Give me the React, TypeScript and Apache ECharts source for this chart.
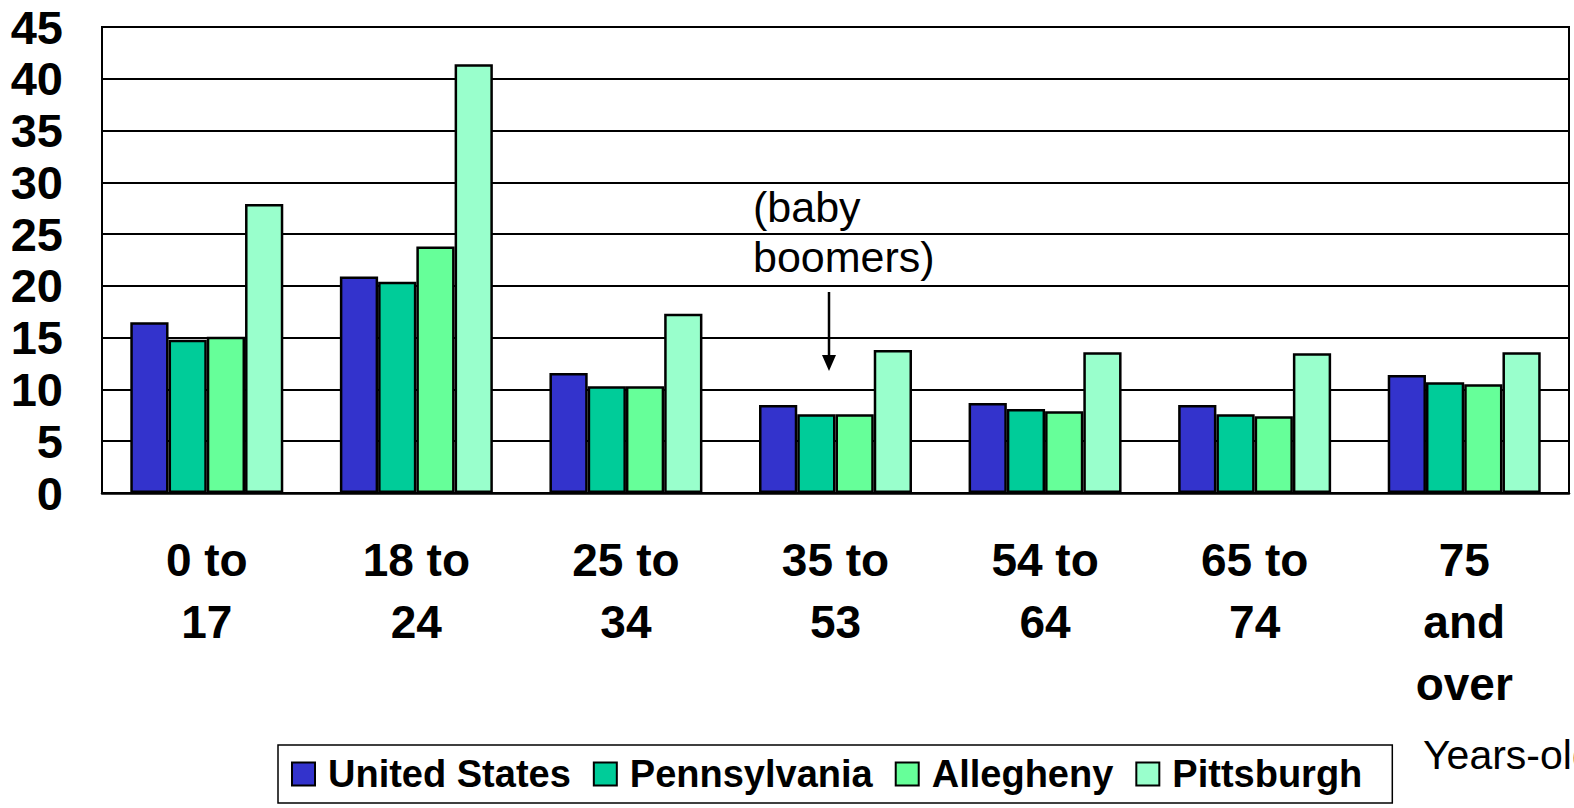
import React, { useEffect, useRef } from "react";
import * as echarts from "echarts";

const categories = ["0 to\n17", "18 to\n24", "25 to\n34", "35 to\n53", "54 to\n64", "65 to\n74", "75\nand\nover"];
const unitedStates = [16.5, 20.9, 11.6, 8.5, 8.7, 8.5, 11.4];
const pennsylvania = [14.8, 20.4, 10.3, 7.6, 8.1, 7.6, 10.7];
const allegheny = [15.1, 23.8, 10.3, 7.6, 7.9, 7.4, 10.5];
const pittsburgh = [27.9, 41.4, 17.3, 13.8, 13.6, 13.5, 13.6];
const seriesNames = ["United States", "Pennsylvania", "Allegheny", "Pittsburgh"];
const seriesColors = ["#3333CC", "#00CC99", "#66FF99", "#99FFCC"];
const seriesData = [unitedStates, pennsylvania, allegheny, pittsburgh];

const FONT = "'Liberation Sans', Arial, Helvetica, sans-serif";

export default function App() {
  const ref = useRef<HTMLDivElement>(null);
  useEffect(() => {
    if (!ref.current) return;
    const chart = echarts.init(ref.current, null, { renderer: "svg" });
    chart.setOption({
      animation: false,
      backgroundColor: "#ffffff",
      textStyle: { fontFamily: FONT },
      grid: {
        left: 102,
        top: 27,
        width: 1467,
        height: 466,
        show: true,
        borderColor: "#000",
        borderWidth: 2,
        backgroundColor: "transparent",
      },
      legend: {
        left: 278,
        top: 745,
        orient: "horizontal",
        itemWidth: 23,
        itemHeight: 23,
        itemGap: 22,
        borderColor: "#000",
        borderWidth: 1.5,
        padding: [10, 30, 10, 13],
        icon: "rect",
        data: seriesNames,
        textStyle: {
          fontFamily: FONT,
          fontSize: 38,
          fontWeight: "bold",
          color: "#000",
          lineHeight: 38,
          padding: [0, 0, 0, 8],
        },
      },
      xAxis: {
        type: "category",
        data: categories,
        axisLine: { show: true, lineStyle: { color: "#000", width: 2.5 } },
        axisTick: { show: false },
        axisLabel: {
          margin: 36,
          fontFamily: FONT,
          fontSize: 46,
          fontWeight: "bold",
          color: "#000",
          lineHeight: 62,
          interval: 0,
        },
      },
      yAxis: {
        type: "value",
        min: 0,
        max: 45,
        interval: 5,
        axisLine: { show: true, lineStyle: { color: "#000", width: 2 } },
        axisTick: { show: false },
        splitLine: { show: true, lineStyle: { color: "#000", width: 2 } },
        axisLabel: {
          margin: 39,
          fontFamily: FONT,
          fontSize: 47,
          fontWeight: "bold",
          color: "#000",
        },
      },
      series: seriesData.map((d, i) => ({
        name: seriesNames[i],
        type: "bar",
        data: d,
        barGap: "0%",
        barCategoryGap: "27%",
        itemStyle: { color: seriesColors[i], borderColor: "#000", borderWidth: 2.5 },
      })),
      graphic: [
        {
          type: "text",
          x: 753,
          y: 207,
          style: {
            text: "(baby",
            fontFamily: FONT,
            fontSize: 43,
            fill: "#000",
            verticalAlign: "middle",
          },
        },
        {
          type: "text",
          x: 753,
          y: 257,
          style: {
            text: "boomers)",
            fontFamily: FONT,
            fontSize: 43,
            fill: "#000",
            verticalAlign: "middle",
          },
        },
        {
          type: "line",
          shape: { x1: 829, y1: 292, x2: 829, y2: 357 },
          style: { stroke: "#000", lineWidth: 2.5 },
        },
        {
          type: "polygon",
          shape: { points: [[822, 355], [836, 355], [829, 371]] },
          style: { fill: "#000" },
        },
        {
          type: "text",
          x: 1423,
          y: 755,
          style: {
            text: "Years-old",
            fontFamily: FONT,
            fontSize: 41,
            fill: "#000",
            verticalAlign: "middle",
          },
        },
      ],
    });
    return () => chart.dispose();
  }, []);
  return (
    <div
      ref={ref}
      style={{ position: "absolute", left: 0, top: 0, width: 1574, height: 808 }}
    />
  );
}
